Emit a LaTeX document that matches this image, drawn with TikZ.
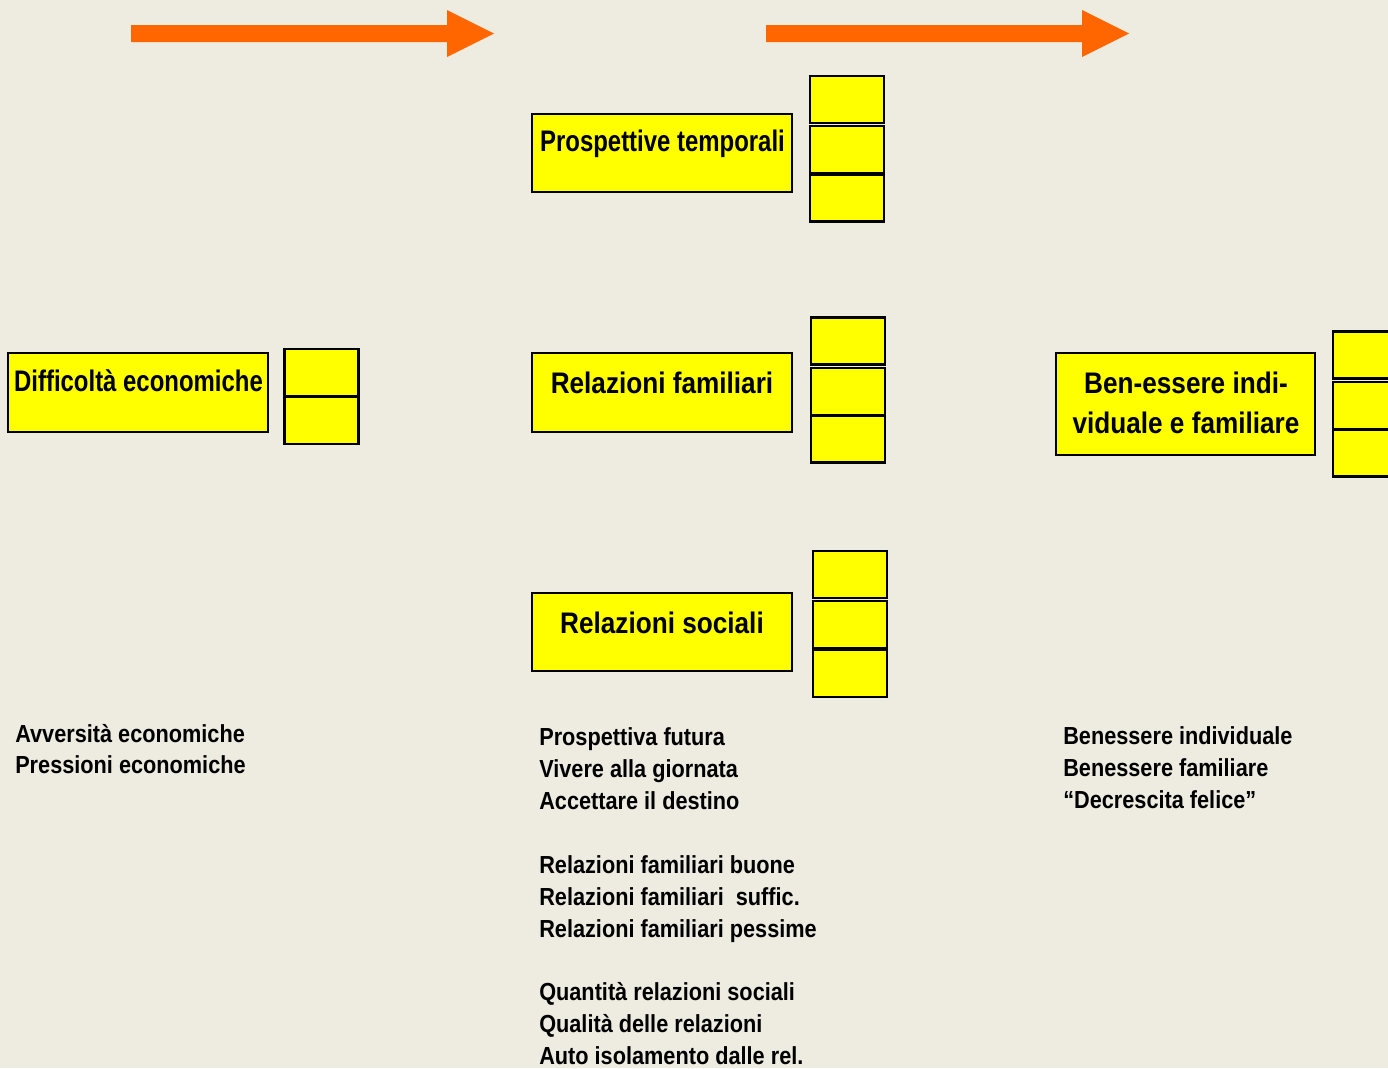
\documentclass[tikz,border=0pt]{standalone}
\usepackage{fontspec}
\setmainfont{Liberation Sans}[FakeStretch=0.88]
\newfontfamily\narrowf{Liberation Sans}[FakeStretch=0.805]
\definecolor{bgc}{RGB}{238,235,224}
\definecolor{arrc}{RGB}{255,102,0}
\definecolor{boxy}{RGB}{255,255,0}
\begin{document}
\begin{tikzpicture}[x=0.75pt,y=-0.75pt,
  bigbox/.style={draw=black,fill=boxy,line width=2.2pt,minimum width=195pt,minimum height=58.5pt,inner sep=0pt},
  smallbox/.style={draw=black,fill=boxy,line width=1.6pt,minimum width=55.5pt,minimum height=35.25pt,inner sep=0pt},
  title/.style={font=\fontsize{22.3}{29}\selectfont\bfseries,inner sep=0pt,anchor=base},
  narrowtitle/.style={font=\narrowf\fontsize{22.3}{29}\selectfont\bfseries,inner sep=0pt,anchor=base},
  listtxt/.style={font=\fontsize{18.5}{24}\selectfont\bfseries,inner sep=0pt,anchor=base west}]
\fill[bgc] (0,0) rectangle (1388,1068);
\useasboundingbox (0,0) rectangle (1388,1068);
\clip (0,0) rectangle (1388,1068);
% arrows
\fill[arrc] (131,25) -- (447,25) -- (447,10) -- (494,33.5) -- (447,57) -- (447,42) -- (131,42) -- cycle;
\fill[arrc] (766,25) -- (1082,25) -- (1082,10) -- (1129,33.5) -- (1082,57) -- (1082,42) -- (766,42) -- cycle;
% big boxes
\node[bigbox,minimum height=59.25pt] (dif) at (138,392.5) {};
\node[bigbox] (pt) at (662,153) {};
\node[bigbox,minimum height=59.25pt] (rf) at (662,392.5) {};
\node[bigbox] (rs) at (662,632) {};
\node[bigbox,minimum width=194.25pt,minimum height=76.5pt] (be) at (1185.5,404) {};
% small boxes
\node[smallbox] (pt1) at (847,99.5) {};
\node[smallbox] (pt2) at (847,149.5) {};
\node[smallbox] (pt3) at (847,198) {};
\node[smallbox] (rf1) at (848,341) {};
\node[smallbox] (rf2) at (848,391.5) {};
\node[smallbox] (rf3) at (848,439) {};
\node[smallbox] (rs1) at (850,574.5) {};
\node[smallbox] (rs2) at (850,624.5) {};
\node[smallbox] (rs3) at (850,673.5) {};
\node[smallbox] (dif1) at (321.5,372.5) {};
\node[smallbox] (dif2) at (321.5,420.5) {};
\node[smallbox] (be1) at (1370,355) {};
\node[smallbox] (be2) at (1370,405.5) {};
\node[smallbox] (be3) at (1370,453) {};
% titles
\node[narrowtitle] (tdif) at (138.5,391.7) {Difficoltà economiche};
\node[narrowtitle] (tpt) at (662.5,151.7) {Prospettive temporali};
\node[title] (trf) at (662,393) {Relazioni familiari};
\node[title] (trs) at (662,633) {Relazioni sociali};
\node[title] (tbe1) at (1186,393) {Ben-essere indi-};
\node[title] (tbe2) at (1186,433) {viduale e familiare};
% lists
\node[listtxt] (l1) at (15,742) {Avversità economiche};
\node[listtxt] (l2) at (15,773.5) {Pressioni economiche};
\node[listtxt] (m1) at (539,745) {Prospettiva futura};
\node[listtxt] (m2) at (539,777) {Vivere alla giornata};
\node[listtxt] (m3) at (539,809) {Accettare il destino};
\node[listtxt] (m4) at (539,873) {Relazioni familiari buone};
\node[listtxt] (m5) at (539,905) {Relazioni familiari\ \ suffic.};
\node[listtxt] (m6) at (539,937) {Relazioni familiari pessime};
\node[listtxt] (m7) at (539,1000.5) {Quantità relazioni sociali};
\node[listtxt] (m8) at (539,1032) {Qualità delle relazioni};
\node[listtxt] (m9) at (539,1064) {Auto isolamento dalle rel.};
\node[listtxt] (r1) at (1063,744.5) {Benessere individuale};
\node[listtxt] (r2) at (1063,776) {Benessere familiare};
\node[listtxt] (r3) at (1063,808) {“Decrescita felice”};
\end{tikzpicture}
\end{document}
